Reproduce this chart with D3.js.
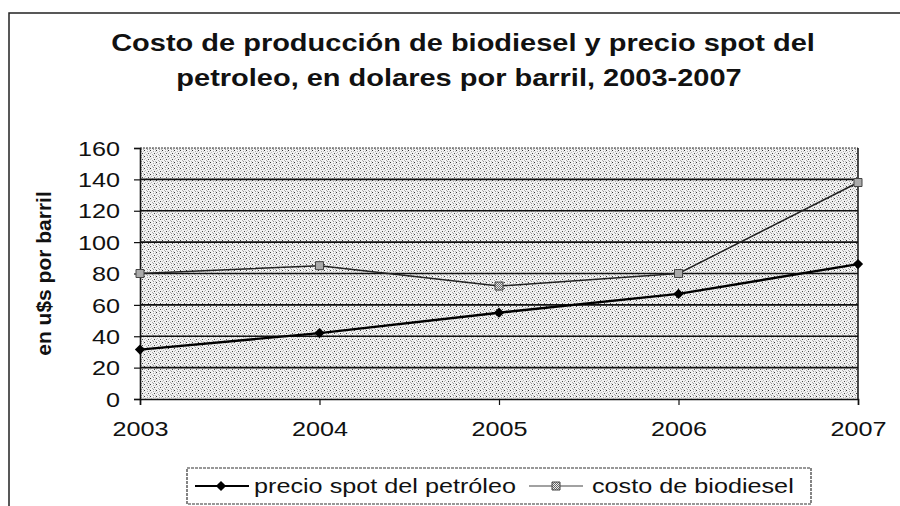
<!DOCTYPE html>
<html>
<head>
<meta charset="utf-8">
<script src="https://cdn.jsdelivr.net/npm/d3@7"></script>
<style>
  body { margin: 0; background: #fff; }
  svg { display: block; font-family: "Liberation Sans", Arial, sans-serif; }
</style>
</head>
<body>
<div id="chart"></div>
<script>
// data
const years = ["2003", "2004", "2005", "2006", "2007"];
const petroleo = [31.5, 42, 55, 67, 86];
const biodiesel = [80, 85, 72, 80, 138];
const yTicks = [0, 20, 40, 60, 80, 100, 120, 140, 160];
const seriesNames = ["precio spot del petróleo", "costo de biodiesel"];

const width = 900;
const height = 506;
const margin = { top: 148, right: 42, bottom: 107, left: 140 };
// the scanned original is wider than plain Arial, so text gets stretched a bit
const stretch = 1.26;

const svg = d3.select("#chart")
    .append("svg")
    .attr("width", width)
    .attr("height", height)
    .attr("viewBox", [0, 0, width, height]);

// stippled grey background, like the scanned excel chart
const defs = svg.append("defs");
const pat = defs.append("pattern")
    .attr("id", "stipple")
    .attr("width", 6).attr("height", 6)
    .attr("patternUnits", "userSpaceOnUse");
pat.append("rect").attr("width", 6).attr("height", 6).attr("fill", "#f2f2f2");
const dots = [[0,0,"#333"],[3,1,"#aaa"],[1,2,"#bbb"],[4,3,"#444"],[2,4,"#aaa"],[5,5,"#bbb"],[0,3,"#c4c4c4"],[5,1,"#c4c4c4"],[3,5,"#999"]];
pat.selectAll("rect.d").data(dots).join("rect")
    .attr("class", "d")
    .attr("x", d => d[0]).attr("y", d => d[1])
    .attr("width", 1).attr("height", 1)
    .attr("fill", d => d[2]);

const mpat = defs.append("pattern")
    .attr("id", "markfill")
    .attr("width", 2).attr("height", 2)
    .attr("patternUnits", "userSpaceOnUse");
mpat.append("rect").attr("width", 2).attr("height", 2).attr("fill", "#eee");
mpat.append("rect").attr("width", 1).attr("height", 1).attr("fill", "#666");
mpat.append("rect").attr("x", 1).attr("y", 1).attr("width", 1).attr("height", 1).attr("fill", "#666");

// outer frame of the chart
svg.append("path")
    .attr("d", `M9,${height} V13 H${width}`)
    .attr("fill", "none")
    .attr("stroke", "#222")
    .attr("stroke-width", 1.5);

// title
const title = svg.append("text")
    .attr("class", "wide")
    .attr("text-anchor", "middle")
    .attr("font-weight", "bold")
    .attr("font-size", 23)
    .attr("fill", "#111");
title.append("tspan").attr("x", 463).attr("y", 51).text("Costo de producción de biodiesel y precio spot del");
title.append("tspan").attr("x", 459).attr("y", 86).text("petroleo, en dolares por barril, 2003-2007");

const x = d3.scalePoint()
    .domain(years)
    .range([margin.left, width - margin.right]);

const y = d3.scaleLinear()
    .domain([0, 160])
    .range([height - margin.bottom, margin.top]);

// plot area
svg.append("rect")
    .attr("x", margin.left)
    .attr("y", margin.top)
    .attr("width", width - margin.right - margin.left)
    .attr("height", height - margin.bottom - margin.top)
    .attr("fill", "url(#stipple)");

// gridlines
svg.append("g")
    .selectAll("line")
    .data(yTicks.filter(d => d > 0 && d < 160))
    .join("line")
    .attr("x1", margin.left)
    .attr("x2", width - margin.right)
    .attr("y1", d => y(d))
    .attr("y2", d => y(d))
    .attr("stroke", "#111")
    .attr("stroke-width", 1.6);

// top border (dotted) and right border
svg.append("line")
    .attr("x1", margin.left).attr("x2", width - margin.right)
    .attr("y1", y(160)).attr("y2", y(160))
    .attr("stroke", "#333").attr("stroke-width", 1.2)
    .attr("stroke-dasharray", "2,1");
svg.append("line")
    .attr("x1", width - margin.right).attr("x2", width - margin.right)
    .attr("y1", y(160)).attr("y2", y(0))
    .attr("stroke", "#111").attr("stroke-width", 1.5);

// axes
const yAxis = svg.append("g")
    .attr("transform", `translate(${margin.left},0)`)
    .call(d3.axisLeft(y).tickValues(yTicks).tickSize(6).tickPadding(14));
const xAxis = svg.append("g")
    .attr("transform", `translate(0,${y(0)})`)
    .call(d3.axisBottom(x).tickSize(6).tickPadding(17));

[yAxis, xAxis].forEach(a => {
    a.select(".domain").attr("stroke", "#111").attr("stroke-width", 1.6);
    a.selectAll(".tick line").attr("stroke", "#111").attr("stroke-width", 1.2);
    a.selectAll("text")
        .attr("class", "wide")
        .attr("font-family", "Liberation Sans, Arial, sans-serif")
        .attr("font-size", 20)
        .attr("fill", "#111");
});
yAxis.selectAll("text").attr("dy", "0.36em");

// y axis title
svg.append("text")
    .attr("transform", `translate(51,${(y(0) + y(160)) / 2}) rotate(-90)`)
    .attr("text-anchor", "middle")
    .attr("font-weight", "bold")
    .attr("font-size", 21)
    .attr("fill", "#111")
    .text("en u$s por barril");

// lines
const rows = years.map((yr, i) => ({ yr, p: petroleo[i], b: biodiesel[i] }));

const lineB = d3.line()
    .x(d => x(d.yr))
    .y(d => y(d.b));
const lineP = d3.line()
    .x(d => x(d.yr))
    .y(d => y(d.p));

svg.append("path")
    .datum(rows)
    .attr("d", lineB)
    .attr("fill", "none")
    .attr("stroke", "#222")
    .attr("stroke-width", 1.5);

svg.append("path")
    .datum(rows)
    .attr("d", lineP)
    .attr("fill", "none")
    .attr("stroke", "#000")
    .attr("stroke-width", 2.4);

const diamond = d3.symbol().type(d3.symbolSquare).size(52);
const square = d3.symbol().type(d3.symbolSquare).size(64);

svg.append("g")
    .selectAll("path")
    .data(rows)
    .join("path")
    .attr("d", square)
    .attr("transform", d => `translate(${x(d.yr)},${y(d.b)})`)
    .attr("fill", "url(#markfill)")
    .attr("stroke", "#444")
    .attr("stroke-width", 1);

svg.append("g")
    .selectAll("path")
    .data(rows)
    .join("path")
    .attr("d", diamond)
    .attr("transform", d => `translate(${x(d.yr)},${y(d.p)}) rotate(45)`)
    .attr("fill", "#000");

// legend
const legend = svg.append("g");
legend.append("rect")
    .attr("x", 187).attr("y", 468)
    .attr("width", 624).attr("height", 36)
    .attr("fill", "#fff")
    .attr("stroke", "#333")
    .attr("stroke-width", 1.2)
    .attr("stroke-dasharray", "3,1");

const legX = [195, 529];
const lg = legend.selectAll("g.item")
    .data(seriesNames)
    .join("g")
    .attr("class", "item")
    .attr("transform", (d, i) => `translate(${legX[i]},486)`);

lg.append("line")
    .attr("x1", 0).attr("x2", 54)
    .attr("stroke", (d, i) => i === 0 ? "#000" : "#444")
    .attr("stroke-width", (d, i) => i === 0 ? 2 : 1.2);
lg.filter((d, i) => i === 0).append("path")
    .attr("d", diamond)
    .attr("transform", "translate(26,0) rotate(45)")
    .attr("fill", "#000");
lg.filter((d, i) => i === 1).append("path")
    .attr("d", square)
    .attr("transform", "translate(27,0)")
    .attr("fill", "url(#markfill)")
    .attr("stroke", "#444");
lg.append("text")
    .attr("class", "wide")
    .attr("x", (d, i) => i === 0 ? 59 : 63)
    .attr("y", 7)
    .attr("font-size", 20)
    .attr("fill", "#111")
    .text(d => d);

// widen the horizontal texts to match the scan
svg.selectAll("text.wide").each(function() {
    const spans = d3.select(this).selectAll("tspan");
    const targets = spans.size() ? spans.nodes() : [this];
    targets.forEach(t => {
        t.setAttribute("textLength", t.getComputedTextLength() * stretch);
        t.setAttribute("lengthAdjust", "spacingAndGlyphs");
    });
});
</script>
</body>
</html>
